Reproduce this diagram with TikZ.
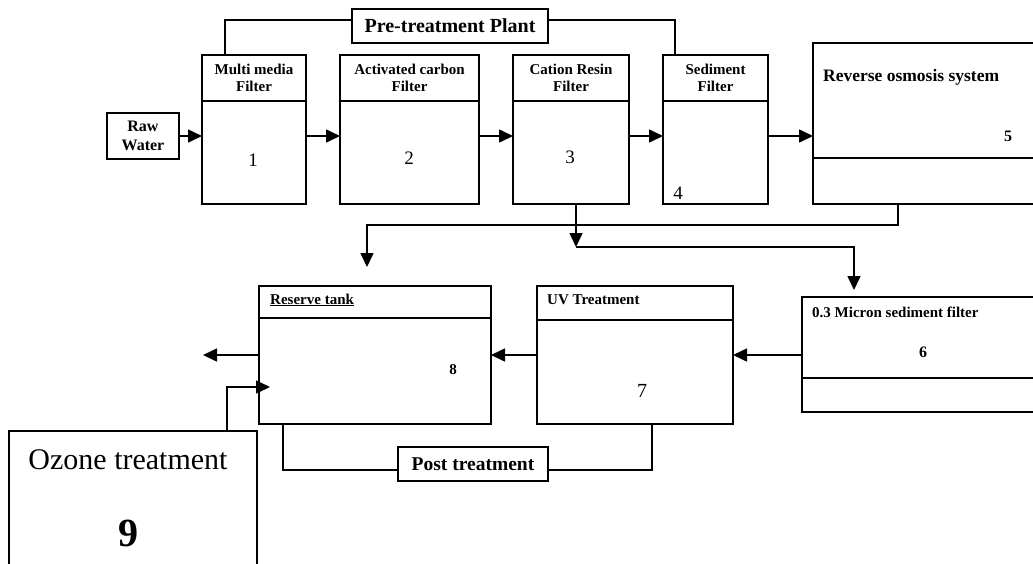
\documentclass[tikz,border=0pt]{standalone}
\usepackage{fontspec}
\setmainfont{Liberation Serif}
\usetikzlibrary{arrows.meta}

\begin{document}
\begin{tikzpicture}[x=1pt, y=-1pt,
  unit/.style={draw, line width=1.6pt, inner sep=0pt, outer sep=0pt, fill=white},
  tag/.style={draw, line width=1.6pt, fill=white, inner sep=0pt, outer sep=0pt, align=center},
  head/.style={align=center, inner sep=0pt, font=\fontsize{15}{17}\selectfont\bfseries},
  num/.style={inner sep=0pt, font=\fontsize{19}{22}\selectfont},
  bnum/.style={inner sep=0pt, font=\fontsize{16}{19}\selectfont\bfseries},
  pipe/.style={line width=1.6pt},
  flow/.style={pipe, -{Triangle[length=14pt, width=13pt]}}
]
  \clip (0,0) rectangle (1033,563);

  % pre-treatment row
  \node[tag, minimum width=72pt, minimum height=46pt, font=\fontsize{16}{19}\selectfont\bfseries] (raw) at (143,136) {Raw\\Water};
  \node[unit, minimum width=104pt, minimum height=149pt] (mmf) at (254,129.5) {};
  \node[unit, minimum width=139pt, minimum height=149pt] (acf) at (409.5,129.5) {};
  \node[unit, minimum width=116pt, minimum height=149pt] (crf) at (571,129.5) {};
  \node[unit, minimum width=105pt, minimum height=149pt] (sdf) at (715.5,129.5) {};
  \node[unit, minimum width=240pt, minimum height=161pt] (ro) at (933,123.5) {};
  \foreach \filt in {mmf, acf, crf, sdf}
    \draw[pipe] ([yshift=-46pt]\filt.north west) -- ([yshift=-46pt]\filt.north east);
  \draw[pipe] ([yshift=46pt]ro.south west) -- ([yshift=46pt]ro.south east);

  \node[head] (mmfhead) at ([yshift=-23pt]mmf.north) {Multi media\\Filter};
  \node[head] (acfhead) at ([yshift=-23pt]acf.north) {Activated carbon\\Filter};
  \node[head] (crfhead) at ([yshift=-23pt]crf.north) {Cation Resin\\Filter};
  \node[head] (sdfhead) at ([yshift=-23pt]sdf.north) {Sediment\\Filter};
  \node[num] (mmfnum) at (253,160) {1};
  \node[num] (acfnum) at (409,158) {2};
  \node[num] (crfnum) at (570,157) {3};
  \node[num] (sdfnum) at (678,193) {4};
  \node[inner sep=0pt, anchor=west, font=\fontsize{17.5}{20}\selectfont\bfseries] (rohead) at (823,77) {Reverse osmosis system};
  \node[bnum] (ronum) at (1008,136) {5};

  \draw[pipe] ([xshift=-29pt]mmf.north) -- ++(0,-35) -| ([xshift=-40.5pt]sdf.north);
  \node[tag, minimum width=196pt, minimum height=34pt, font=\fontsize{20}{22}\selectfont\bfseries] (pre) at (450,26) {Pre-treatment Plant};

  \foreach \a/\b in {raw/mmf, mmf/acf, acf/crf, crf/sdf, sdf/ro}
    \draw[flow] (\a.east |- raw) -- (\b.west |- raw);

  % post-treatment row
  \node[unit, minimum width=232pt, minimum height=138pt] (tank) at (375,355) {};
  \node[unit, minimum width=196pt, minimum height=138pt] (uv) at (635,355) {};
  \node[unit, minimum width=250pt, minimum height=115pt] (mic) at (927,354.5) {};
  \node[unit, minimum width=248pt, minimum height=150pt] (ozone) at (133,506) {};
  \draw[pipe] ([yshift=-32pt]tank.north west) -- ([yshift=-32pt]tank.north east);
  \draw[pipe] ([yshift=-34pt]uv.north west) -- ([yshift=-34pt]uv.north east);
  \draw[pipe] ([yshift=34pt]mic.south west) -- ([yshift=34pt]mic.south east);

  \node[head, anchor=west] (tankhead) at (270,300) {\underline{Reserve tank}};
  \node[head, anchor=west] (uvhead) at (547,300) {UV Treatment};
  \node[head, anchor=west] (michead) at (812,312) {0.3 Micron sediment filter};
  \node[bnum, font=\fontsize{15}{18}\selectfont\bfseries] (tanknum) at (453,370) {8};
  \node[num, font=\fontsize{20}{24}\selectfont] (uvnum) at (642,391) {7};
  \node[bnum] (micnum) at (923,352) {6};
  \node[inner sep=0pt, font=\fontsize{30}{36}\selectfont] (ozhead) at (128,460) {Ozone treatment};
  \node[inner sep=0pt, font=\fontsize{40}{48}\selectfont\bfseries] (oznum) at (128,533) {9};

  \draw[pipe] ([xshift=-92pt]tank.south) -- ++(0,46) -| ([xshift=17pt]uv.south);
  \node[tag, minimum width=150pt, minimum height=34pt, font=\fontsize{19.5}{22}\selectfont\bfseries] (post) at (473,464) {Post treatment};

  % connectors between the rows
  \coordinate (tankin) at (367,267);
  \coordinate (micin) at (854,290);
  \coordinate (out) at (203,355);
  \coordinate (ozin) at (270,387);
  \draw[flow] ([xshift=-35pt]ro.south) -- ++(0,21) -| (tankin);
  \draw[flow] ([xshift=5pt]crf.south) -- ++(0,43) coordinate (split);
  \draw[flow] (split) -| (micin);
  \draw[flow] (mic.west |- uv) -- (uv.east);
  \draw[flow] (uv.west) -- (tank.east);
  \draw[flow] (tank.west) -- (out);
  \draw[flow] ([xshift=94pt]ozone.north) |- (ozin);
\end{tikzpicture}
\end{document}
